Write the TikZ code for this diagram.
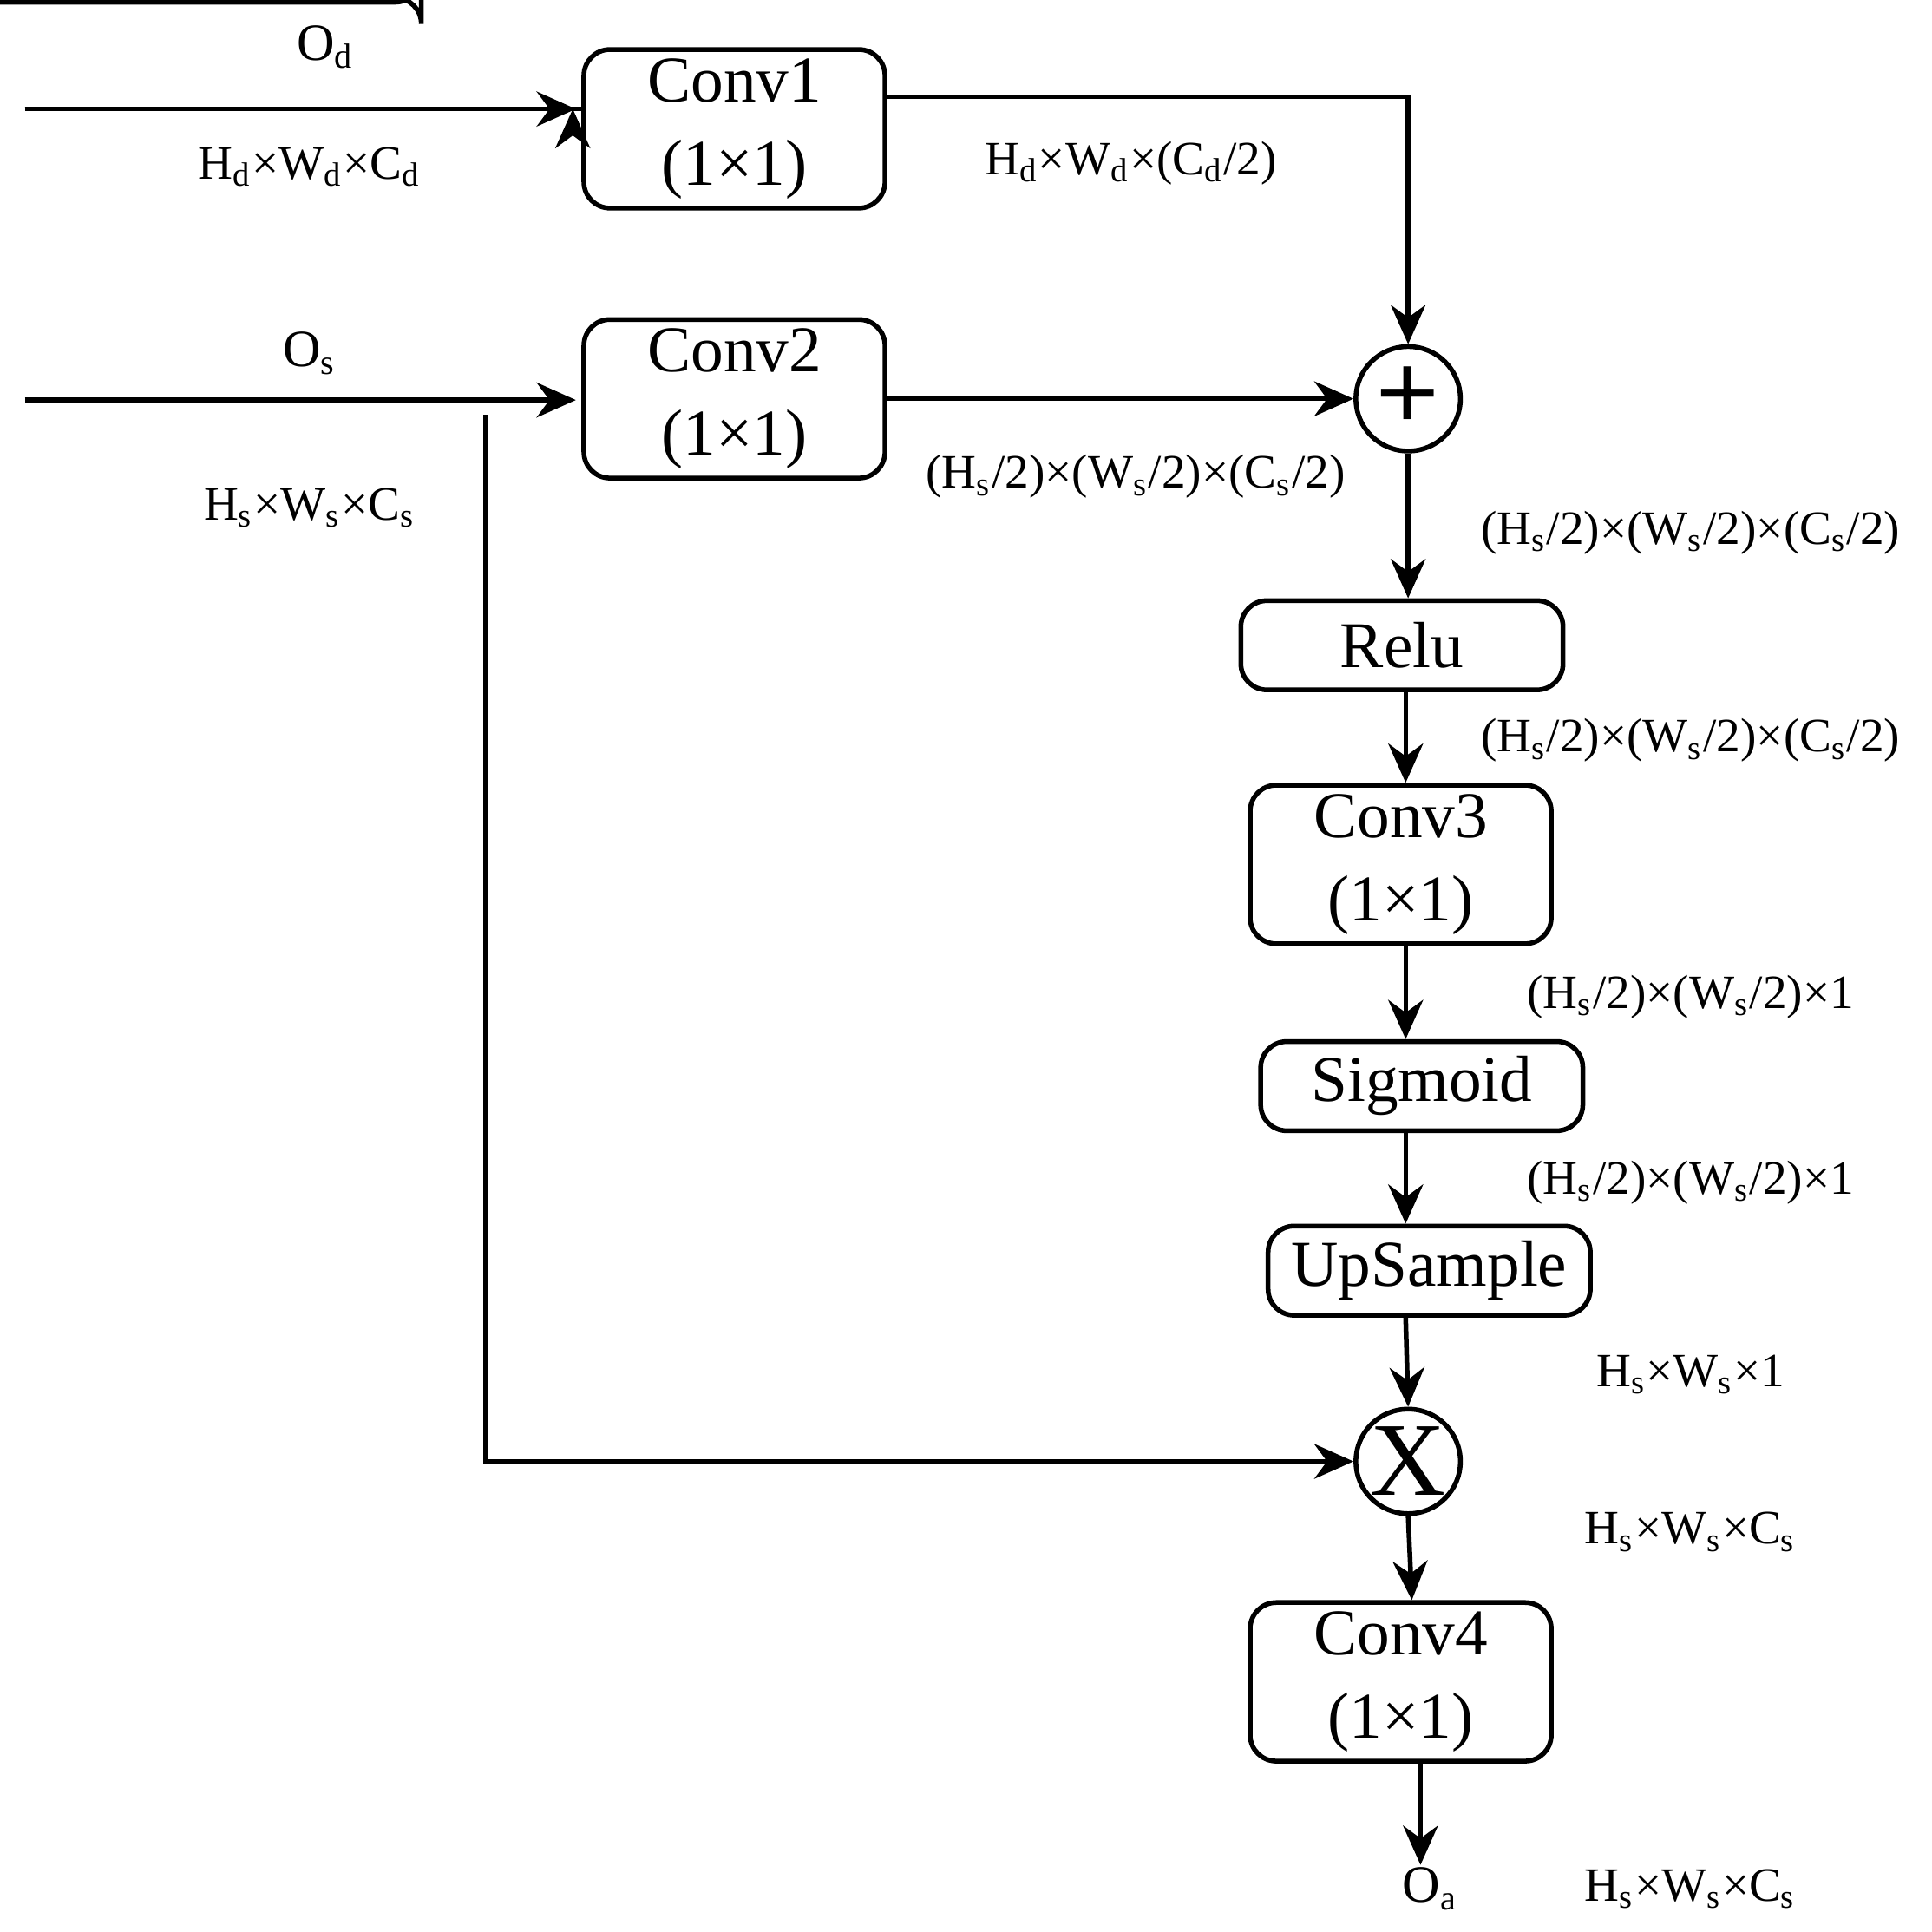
\documentclass[tikz,border=0pt]{standalone}
\usepackage{fontspec}
\setmainfont{Liberation Serif}
\usetikzlibrary{arrows.meta,positioning}
\newcommand{\sub}[1]{\textsubscript{#1}}
\begin{document}
\begin{tikzpicture}[x=0.01cm,y=-0.01cm,line width=1.1pt,
    >={Stealth[length=9pt,width=8pt]},
    block/.style={draw,rounded corners=6pt,align=center,font=\fontsize{15}{19}\selectfont,inner sep=0pt},
    op/.style={draw,circle,minimum size=24pt,inner sep=0pt},
    dim/.style={font=\fontsize{11}{13}\selectfont,inner sep=0pt}]
  \useasboundingbox (0,0) rectangle (1560,1560);
  % blocks
  \node[block,minimum width=243\pgflinewidth/110*10,text width=6.8cm] at (0,0) {};
  \node[block,minimum width=2.43cm,minimum height=1.28cm] (conv1) at (593,104) {Conv1\\(1×1)};
  \node[block,minimum width=2.43cm,minimum height=1.28cm] (conv2) at (593,322) {Conv2\\(1×1)};
  \node[op] (plus) at (1137,322) {\fontsize{26}{26}\selectfont\textbf{+}};
  \node[block,minimum width=2.6cm,minimum height=0.72cm] (relu) at (1132,521) {Relu};
  \node[block,minimum width=2.43cm,minimum height=1.28cm] (conv3) at (1131,698) {Conv3\\(1×1)};
  \node[block,minimum width=2.6cm,minimum height=0.72cm] (sigm) at (1148,877) {Sigmoid};
  \node[block,minimum width=2.6cm,minimum height=0.72cm] (up) at (1154,1026) {UpSample};
  \node[op] (times) at (1137,1180) {\fontsize{24}{24}\selectfont X};
  \node[block,minimum width=2.43cm,minimum height=1.28cm] (conv4) at (1131,1358) {Conv4\\(1×1)};
  \node[dim,font=\fontsize{12}{14}\selectfont] (oa) at (1155,1525) {O\sub{a}};
  % inputs
  \coordinate (ind) at (20,88);
  \coordinate (ins) at (20,323);
  \coordinate (split) at (392,335);
  \draw[->] (ind) -- (ind -| conv1.west) ++(-7,0);
  \draw[->] (ind) -- (465,88);
  \draw[->] (ins) -- (465,323);
  \draw[->] (split) |- (times.west);
  \draw[->] (conv1.east |- 0,78) -| (plus.north);
  \draw[->] (conv2.east) -- (plus.west);
  % main column
  \draw[->] (plus.south) -- (relu.north -| plus);
  \draw[->] (relu.south -| 1135,0) -- (conv3.north -| 1135,0);
  \draw[->] (conv3.south -| 1135,0) -- (sigm.north -| 1135,0);
  \draw[->] (sigm.south -| 1135,0) -- (up.north -| 1135,0);
  \draw[->] (up.south -| 1135,0) -- (times.north);
  \draw[->] (times.south) -- (conv4.north -| 1140,0);
  \draw[->] (conv4.south -| 1147,0) -- (oa.north -| 1147,0);
  % sizes
  \node[dim,font=\fontsize{12}{14}\selectfont] at (263,38) {O\sub{d}};
  \node[dim] at (250,135) {H\sub{d}×W\sub{d}×C\sub{d}};
  \node[dim] at (913,132) {H\sub{d}×W\sub{d}×(C\sub{d}/2)};
  \node[dim,font=\fontsize{12}{14}\selectfont] at (250,285) {O\sub{s}};
  \node[dim] at (250,410) {H\sub{s}×W\sub{s}×C\sub{s}};
  \node[dim] at (917,385) {(H\sub{s}/2)×(W\sub{s}/2)×(C\sub{s}/2)};
  \node[dim] at (1365,430) {(H\sub{s}/2)×(W\sub{s}/2)×(C\sub{s}/2)};
  \node[dim] at (1365,598) {(H\sub{s}/2)×(W\sub{s}/2)×(C\sub{s}/2)};
  \node[dim] at (1365,805) {(H\sub{s}/2)×(W\sub{s}/2)×1};
  \node[dim] at (1365,955) {(H\sub{s}/2)×(W\sub{s}/2)×1};
  \node[dim] at (1365,1110) {H\sub{s}×W\sub{s}×1};
  \node[dim] at (1365,1237) {H\sub{s}×W\sub{s}×C\sub{s}};
  \node[dim] at (1365,1525) {H\sub{s}×W\sub{s}×C\sub{s}};
\end{tikzpicture}
\end{document}
